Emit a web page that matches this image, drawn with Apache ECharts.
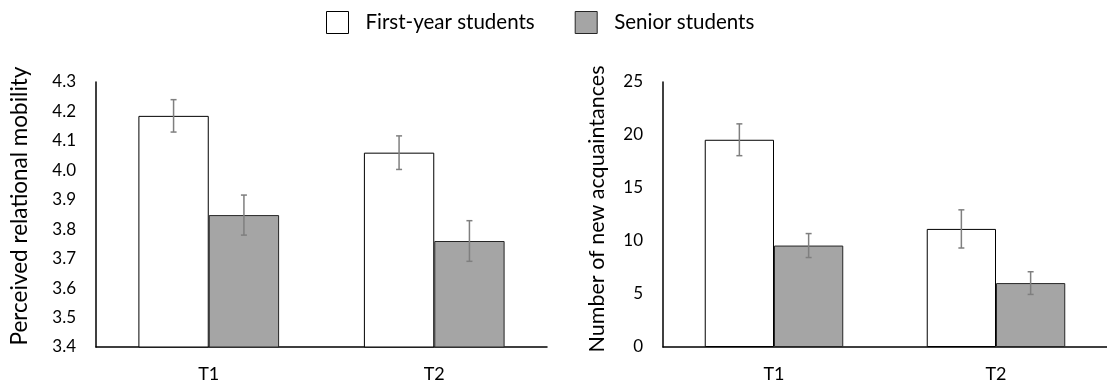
<!DOCTYPE html>
<html>
<head>
<meta charset="utf-8">
<script src="https://cdn.jsdelivr.net/npm/echarts@6/dist/echarts.min.js"></script>
<style>
html,body{margin:0;padding:0;background:#fff;}
#chart{width:1107px;height:389px;}
</style>
</head>
<body>
<div id="chart"></div>
<script>
const categories = ['T1', 'T2'];
const seriesNames = ['First-year students', 'Senior students'];
const axisTitles = ['Perceived relational mobility', 'Number of new acquaintances'];
const mobilityFirst = [4.185, 4.06];
const mobilitySenior = [3.848, 3.76];
const mobilityFirstErr = [0.055, 0.057];
const mobilitySeniorErr = [0.068, 0.069];
const acqFirst = [19.55, 11.14];
const acqSenior = [9.57, 6.03];
const acqFirstErr = [1.5, 1.8];
const acqSeniorErr = [1.13, 1.07];
const mobilityTicks = { min: 3.4, max: 4.3, interval: 0.1 };
const acqTicks = { min: 0, max: 25, interval: 5 };

const FONT = 'Lato';
const whiteStyle = { color: '#ffffff', borderColor: '#000000', borderWidth: 1 };
const greyStyle = { color: '#a5a5a5', borderColor: '#262626', borderWidth: 1 };
const BAR_W = 0.312;

function errData(vals, errs) {
  return categories.map((c, i) => [i, vals[i] - errs[i], vals[i] + errs[i]]);
}
function errRender(sign) {
  return function (params, api) {
    const idx = api.value(0);
    const lo = api.coord([idx, api.value(1)]);
    const hi = api.coord([idx, api.value(2)]);
    const band = api.size([1, 0])[0];
    const cx = lo[0] + sign * band * BAR_W / 2;
    const cap = 3;
    const st = { stroke: '#7f7f7f', lineWidth: 1.5 };
    return {
      type: 'group',
      children: [
        { type: 'line', shape: { x1: cx, y1: lo[1], x2: cx, y2: hi[1] }, style: st },
        { type: 'line', shape: { x1: cx - cap, y1: lo[1], x2: cx + cap, y2: lo[1] }, style: st },
        { type: 'line', shape: { x1: cx - cap, y1: hi[1], x2: cx + cap, y2: hi[1] }, style: st }
      ]
    };
  };
}

function xAxisCfg(gi) {
  return {
    type: 'category', gridIndex: gi, data: categories,
    axisLine: { show: true, lineStyle: { color: '#000', width: 1.5 } },
    axisTick: { show: false },
    axisLabel: { color: '#000', fontFamily: FONT, fontSize: 18, margin: 18 }
  };
}
function yAxisCfg(gi, ticks, dec) {
  return {
    type: 'value', gridIndex: gi, min: ticks.min, max: ticks.max, interval: ticks.interval,
    axisLine: { show: true, lineStyle: { color: '#000', width: 1.5 } },
    axisTick: { show: false },
    splitLine: { show: false },
    axisLabel: { color: '#000', fontFamily: FONT, fontSize: 17, margin: 20,
      formatter: v => v.toFixed(dec) }
  };
}
function bars(gi, vals, name, style) {
  return { type: 'bar', name: name, xAxisIndex: gi, yAxisIndex: gi, data: vals,
    barWidth: (BAR_W * 100) + '%', barGap: '0%', itemStyle: style, silent: true };
}
function errs(gi, vals, e, sign) {
  return { type: 'custom', name: 'err' + gi + sign, xAxisIndex: gi, yAxisIndex: gi,
    data: errData(vals, e), encode: { x: 0, y: [1, 2] }, renderItem: errRender(sign), z: 5, silent: true };
}
function vTitle(text, x, y, size) {
  return { type: 'text', x: x, y: y, rotation: Math.PI / 2, silent: true,
    style: { text: text, fill: '#000', font: size + 'px ' + FONT, align: 'center', verticalAlign: 'middle' } };
}

const chart = echarts.init(document.getElementById('chart'), null, { renderer: 'canvas' });
chart.setOption({
  animation: false,
  backgroundColor: '#fff',
  legend: {
    top: 6, left: 321,
    itemWidth: 22, itemHeight: 22, itemGap: 40,
    textStyle: { color: '#000', fontFamily: FONT, fontSize: 20.5, padding: [0, 0, 0, 12] },
    data: [
      { name: seriesNames[0], icon: 'rect', itemStyle: whiteStyle },
      { name: seriesNames[1], icon: 'rect', itemStyle: greyStyle }
    ],
    selectedMode: false
  },
  grid: [
    { left: 96, right: 560, top: 82, bottom: 42 },
    { left: 663, right: -7, top: 82, bottom: 42 }
  ],
  xAxis: [xAxisCfg(0), xAxisCfg(1)],
  yAxis: [yAxisCfg(0, mobilityTicks, 1), yAxisCfg(1, acqTicks, 0)],
  graphic: [
    vTitle(axisTitles[0], 20, 206, 22.5),
    vTitle(axisTitles[1], 597.5, 209, 21.5)
  ],
  series: [
    bars(0, mobilityFirst, seriesNames[0], whiteStyle),
    bars(0, mobilitySenior, seriesNames[1], greyStyle),
    bars(1, acqFirst, seriesNames[0], whiteStyle),
    bars(1, acqSenior, seriesNames[1], greyStyle),
    errs(0, mobilityFirst, mobilityFirstErr, -1),
    errs(0, mobilitySenior, mobilitySeniorErr, 1),
    errs(1, acqFirst, acqFirstErr, -1),
    errs(1, acqSenior, acqSeniorErr, 1)
  ]
});
</script>
</body>
</html>
